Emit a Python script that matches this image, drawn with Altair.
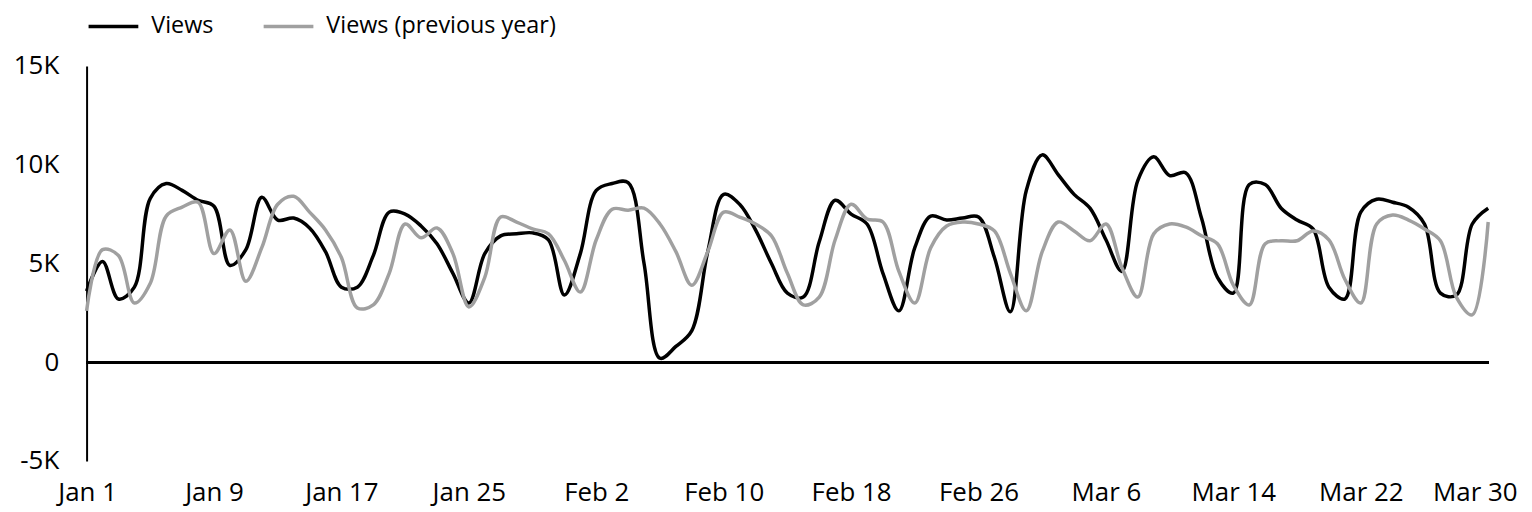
import altair as alt
import pandas as pd

# ---- data (daily, Jan 1 .. Mar 30, 2023) ----
start_date = "2023-01-01"
views = [
    3.6, 5.1, 3.2, 3.8, 8.3, 9.05, 8.7, 8.2, 7.9, 4.9,
    5.7, 8.35, 7.2, 7.3, 6.8, 5.6, 3.8, 3.8, 5.4, 7.6,
    7.5, 6.9, 6.0, 4.5, 3.0, 5.5, 6.4, 6.5, 6.55, 6.2,
    3.4, 5.5, 8.7, 9.05, 9.1, 5.0, 0.2, 0.8, 1.6, 5.6,
    8.5, 8.0, 6.7, 5.0, 3.5, 3.3, 6.1, 8.2, 7.5, 7.0,
    4.5, 2.6, 5.8, 7.4, 7.2, 7.3, 7.35, 5.3, 2.55, 8.7,
    10.5, 9.5, 8.5, 7.8, 6.2, 4.6, 9.2, 10.4, 9.45, 9.6,
    7.3, 4.3, 3.5, 9.0, 9.0, 7.8, 7.2, 6.75, 3.8, 3.2,
    7.6, 8.25, 8.1, 7.85, 7.0, 3.5, 3.4, 7.0, 7.8,
]
views_prev = [
    2.6, 5.7, 5.4, 3.0, 4.0, 7.4, 7.85, 8.1, 5.5, 6.7,
    4.1, 5.8, 8.0, 8.4, 7.6, 6.7, 5.3, 2.75, 2.9, 4.5,
    7.0, 6.3, 6.8, 5.5, 2.8, 4.3, 7.35, 7.1, 6.75, 6.5,
    5.15, 3.55, 6.2, 7.75, 7.7, 7.8, 7.0, 5.6, 3.9, 5.6,
    7.6, 7.35, 7.0, 6.4, 4.5, 2.9, 3.3, 6.2, 8.0, 7.25,
    7.1, 4.6, 3.0, 5.8, 6.9, 7.1, 7.0, 6.65, 4.5, 2.6,
    5.6, 7.1, 6.65, 6.15, 7.0, 4.8, 3.3, 6.5, 7.0, 6.85,
    6.4, 6.0, 3.9, 2.9, 6.0, 6.15, 6.15, 6.65, 6.2, 4.2,
    3.0, 7.0, 7.45, 7.2, 6.75, 6.15, 3.3, 2.4, 7.1,
]
series_names = ["Views", "Views (previous year)"]
series_colors = ["#000000", "#a0a0a0"]
x_tick_labels = ["Jan 1", "Jan 9", "Jan 17", "Jan 25", "Feb 2", "Feb 10",
                 "Feb 18", "Feb 26", "Mar 6", "Mar 14", "Mar 22", "Mar 30"]
y_ticks = [-5000, 0, 5000, 10000, 15000]

FONT = "Open Sans"

dates = pd.date_range(start_date, periods=len(views), freq="D").strftime("%Y-%m-%dT00:00:00").tolist()
df = pd.DataFrame({
    "date": dates + dates,
    "value": [v * 1000 for v in views] + [v * 1000 for v in views_prev],
    "series": [series_names[0]] * len(views) + [series_names[1]] * len(views_prev),
})

month_num = {"Jan": 1, "Feb": 2, "Mar": 3}
tick_values = [alt.DateTime(year=2023, month=month_num[t.split()[0]], date=int(t.split()[1]))
               for t in x_tick_labels]

x_enc = alt.X(
    "date:T",
    scale=alt.Scale(domain=[tick_values[0], tick_values[-1]], nice=False),
    axis=alt.Axis(values=tick_values, format="%b %-d", title=None, domain=False,
                  ticks=False, grid=False, labelFontSize=26, labelFont=FONT,
                  labelColor="#000000", labelPadding=19,
                  labelFlush=True, labelFlushOffset=29),
)
y_scale = alt.Scale(domain=[y_ticks[0], y_ticks[-1]], nice=False, zero=False)

lines = alt.Chart(df).mark_line(interpolate="catmull-rom", strokeWidth=3.5).encode(
    x=x_enc,
    y=alt.Y("value:Q", scale=y_scale,
            axis=alt.Axis(values=y_ticks, title=None, grid=False, ticks=False,
                          domain=True, domainColor="#000000", domainWidth=2,
                          labelExpr="datum.value == 0 ? '0' : (datum.value / 1000) + 'K'",
                          labelFontSize=26, labelFont=FONT, labelColor="#000000",
                          labelPadding=28)),
    color=alt.Color("series:N",
                    scale=alt.Scale(domain=series_names, range=series_colors),
                    legend=alt.Legend(title=None, orient="none", legendX=0, legendY=-67,
                                      direction="horizontal", symbolType="stroke",
                                      symbolSize=2500, symbolStrokeWidth=3.5,
                                      labelFontSize=23.5, labelFont=FONT, labelLimit=500,
                                      labelColor="#000000", labelOffset=11,
                                      columnPadding=43, padding=0)),
)

zero_rule = alt.Chart(df).mark_rule(color="#000000", strokeWidth=2).encode(
    y=alt.Y(datum=0, scale=y_scale)
)

chart = alt.layer(zero_rule, lines).properties(
    width=1409, height=397,
    autosize=alt.AutoSizeParams(type="none"),
    padding={"left": 79, "top": 57, "right": 36, "bottom": 48},
).configure_view(stroke=None)

chart.save("out.html", embed_options={"renderer": "svg", "actions": False})
